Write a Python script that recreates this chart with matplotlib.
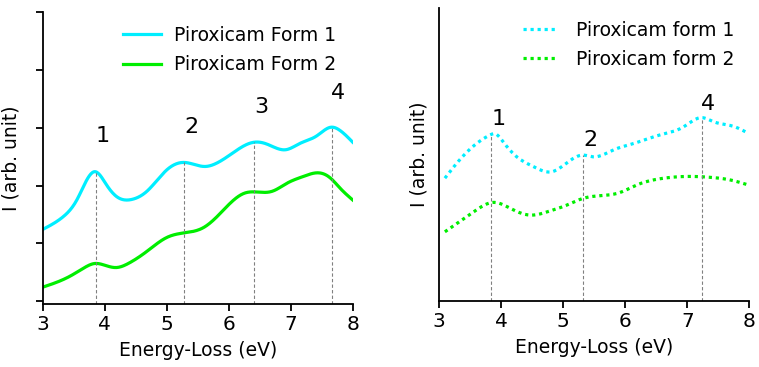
import numpy as np
import matplotlib
matplotlib.use("Agg")
import matplotlib.pyplot as plt

# =================================================================
# DADOS
# =================================================================
# painel esquerdo - curvas solidas
x_f1_esq = [3.0, 3.33, 3.55, 3.84, 4.03, 4.19, 4.44, 4.68, 5.0, 5.28, 5.62, 5.81,
            6.02, 6.41, 6.61, 6.92, 7.15, 7.42, 7.65, 7.80, 8.0]
y_f1_esq = [1.24, 1.46, 1.75, 2.24, 2.01, 1.81, 1.76, 1.90, 2.27, 2.40, 2.33, 2.39,
            2.53, 2.75, 2.72, 2.62, 2.73, 2.86, 3.01, 2.95, 2.75]
x_f2_esq = [3.0, 3.44, 3.66, 3.84, 4.0, 4.19, 4.38, 4.68, 5.0, 5.28, 5.59, 5.81,
            6.02, 6.26, 6.41, 6.70, 6.94, 7.21, 7.45, 7.64, 7.80, 8.0]
y_f2_esq = [0.24, 0.43, 0.57, 0.65, 0.62, 0.58, 0.65, 0.86, 1.10, 1.18, 1.27, 1.46,
            1.69, 1.87, 1.89, 1.90, 2.04, 2.16, 2.22, 2.13, 1.95, 1.75]
picos_esq = [3.855, 5.285, 6.41, 7.66]
rotulos_esq = ["1", "2", "3", "4"]
pos_rotulos_esq = [(3.97, 2.85), (5.40, 3.01), (6.53, 3.36), (7.77, 3.60)]

# painel direito - curvas pontilhadas
x_f1_dir = [3.09, 3.33, 3.60, 3.82, 3.90, 4.03, 4.25, 4.52, 4.81, 5.05, 5.32, 5.48,
            5.81, 6.13, 6.56, 6.94, 7.23, 7.42, 7.74, 7.98]
y_f1_dir = [2.13, 2.45, 2.73, 2.88, 2.90, 2.76, 2.50, 2.33, 2.24, 2.39, 2.53, 2.50,
            2.62, 2.73, 2.88, 3.02, 3.18, 3.11, 3.03, 2.91]
x_f2_dir = [3.09, 3.33, 3.60, 3.87, 4.14, 4.46, 4.78, 5.05, 5.32, 5.91, 6.18, 6.56,
            6.99, 7.42, 7.69, 7.96]
y_f2_dir = [1.20, 1.38, 1.58, 1.71, 1.61, 1.49, 1.56, 1.66, 1.78, 1.88, 2.01, 2.12,
            2.16, 2.14, 2.10, 2.02]
picos_dir = [3.83, 5.32, 7.23]
rotulos_dir = ["1", "2", "4"]
pos_rotulos_dir = [(3.95, 3.15), (5.43, 2.79), (7.34, 3.42)]

x_ticks = [3, 4, 5, 6, 7, 8]

COR_1 = '#00eeff'
COR_2 = '#00ee00'
FONTE = 13.5


def suaviza(xs, ys):
    # curva suave passando pelos pontos lidos (spline cubica simples)
    xs = np.asarray(xs, float)
    ys = np.asarray(ys, float)
    n = len(xs)
    h = np.diff(xs)
    A = np.zeros((n, n))
    b = np.zeros(n)
    A[0, 0] = A[-1, -1] = 1
    for i in range(1, n - 1):
        A[i, i - 1] = h[i - 1]
        A[i, i] = 2 * (h[i - 1] + h[i])
        A[i, i + 1] = h[i]
        b[i] = 3 * ((ys[i + 1] - ys[i]) / h[i] - (ys[i] - ys[i - 1]) / h[i - 1])
    c = np.linalg.solve(A, b)
    xx = np.linspace(xs[0], xs[-1], 400)
    idx = np.clip(np.searchsorted(xs, xx) - 1, 0, n - 2)
    dx = xx - xs[idx]
    bb = (ys[idx + 1] - ys[idx]) / h[idx] - h[idx] * (2 * c[idx] + c[idx + 1]) / 3
    d = (c[idx + 1] - c[idx]) / (3 * h[idx])
    yy = ys[idx] + bb * dx + c[idx] * dx ** 2 + d * dx ** 3
    return xx, yy


def picos_na_curva(xs, ys, picos):
    xx, yy = suaviza(xs, ys)
    return np.interp(picos, xx, yy)


fig = plt.figure(figsize=(7.59, 3.67), dpi=100)
ax1 = fig.add_axes([0.0563, 0.173, 0.4084, 0.7935])
ax2 = fig.add_axes([0.5788, 0.1798, 0.4084, 0.7975])

# ---------------- painel esquerdo ----------------
xx, yy = suaviza(x_f1_esq, y_f1_esq)
ax1.plot(xx, yy, color=COR_1, lw=2.3, label="Piroxicam Form 1")
xx, yy = suaviza(x_f2_esq, y_f2_esq)
ax1.plot(xx, yy, color=COR_2, lw=2.3, label="Piroxicam Form 2")
topo = picos_na_curva(x_f1_esq, y_f1_esq, picos_esq)
for xp, yt in zip(picos_esq, topo):
    ax1.plot([xp, xp], [-0.05, yt], ls='--', color='gray', lw=0.8, dashes=(3, 2))
for txt, (xl, yl) in zip(rotulos_esq, pos_rotulos_esq):
    ax1.text(xl, yl, txt, fontsize=16, ha='center', va='center')
ax1.set_xlim(3, 8)
ax1.set_ylim(-0.043, 5)
ax1.set_yticks([0, 1, 2, 3, 4, 5])
ax1.set_yticklabels([])
ax1.legend(loc='upper left', bbox_to_anchor=(0.229, 0.985), frameon=False,
           fontsize=FONTE, handlelength=2.0, handletextpad=0.7, labelspacing=0.55,
           borderpad=0)

# ---------------- painel direito ----------------
xx, yy = suaviza(x_f1_dir, y_f1_dir)
ax2.plot(xx, yy, color=COR_1, lw=2.3, dashes=(1, 1.2), label="Piroxicam form 1")
xx, yy = suaviza(x_f2_dir, y_f2_dir)
ax2.plot(xx, yy, color=COR_2, lw=2.3, dashes=(1, 1.2), label="Piroxicam form 2")
topo = picos_na_curva(x_f1_dir, y_f1_dir, picos_dir)
for xp, yt in zip(picos_dir, topo):
    ax2.plot([xp, xp], [0, yt], ls='--', color='gray', lw=0.8, dashes=(3, 2))
for txt, (xl, yl) in zip(rotulos_dir, pos_rotulos_dir):
    ax2.text(xl, yl, txt, fontsize=16, ha='center', va='center')
ax2.set_xlim(3, 8)
ax2.set_ylim(0, 5.075)
ax2.set_yticks([])
ax2.legend(loc='upper left', bbox_to_anchor=(0.241, 0.99), frameon=False,
           fontsize=FONTE, handlelength=1.7, handletextpad=1.1, labelspacing=0.55,
           borderpad=0)

for ax in (ax1, ax2):
    ax.spines['top'].set_visible(False)
    ax.spines['right'].set_visible(False)
    ax.spines['left'].set_linewidth(1.3)
    ax.spines['bottom'].set_linewidth(1.3)
    ax.set_xticks(x_ticks)
    ax.tick_params(axis='both', labelsize=14.5, width=1.3, length=5, pad=3)
    ax.set_xlabel("Energy-Loss (eV)", fontsize=FONTE, labelpad=5)
    ax.set_ylabel("I (arb. unit)", fontsize=FONTE, labelpad=8)

fig.savefig("out.png", dpi=100)
